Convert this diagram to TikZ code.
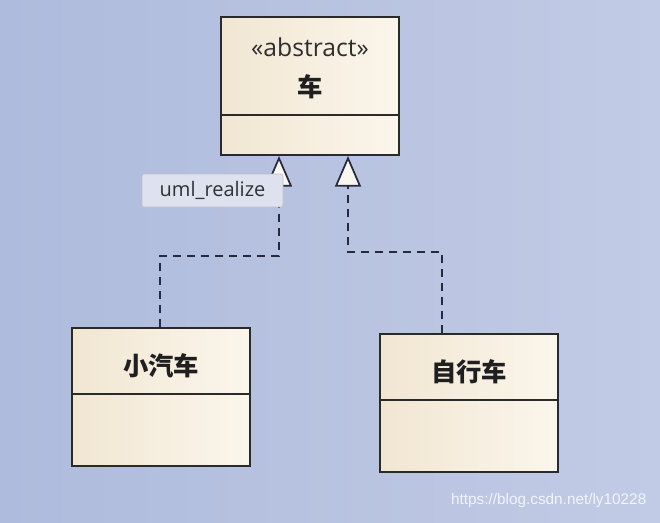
\documentclass[tikz,border=0pt]{standalone}
\usepackage{fontspec}
\setmainfont{Open Sans}
\newfontfamily\cjk{Noto Sans CJK SC}
\newfontfamily\wmfont{Liberation Sans}
\usetikzlibrary{arrows.meta}
\definecolor{bgA}{HTML}{AEBBDC}
\definecolor{bgB}{HTML}{C2CBE5}
\definecolor{boxA}{HTML}{F1E6D2}
\definecolor{boxB}{HTML}{FBF6EC}
\definecolor{edge}{HTML}{2A2A2A}
\definecolor{dashcol}{HTML}{262A3C}
\definecolor{tipfill}{HTML}{FAF7F0}
\definecolor{lblfill}{HTML}{DDE2EE}
\definecolor{lbltext}{HTML}{2E3138}
\tikzset{
  classbox/.style={draw=edge, line width=1.5pt, left color=boxA, right color=boxB,
    minimum width=133.5pt, minimum height=103.5pt, inner sep=0pt},
  divider/.style={draw=edge, line width=1.5pt},
  realize/.style={draw=dashcol, line width=1.5pt, dash pattern=on 6pt off 4.5pt,
    -{Triangle[length=23pt, width=19.5pt, fill=tipfill, line width=1.3pt]}},
  cname/.style={font=\cjk\bfseries\fontsize{19}{21}\selectfont, text=black!88},
  stereo/.style={font=\fontsize{18.5}{20}\selectfont, text=black!82},
  tag/.style={fill=lblfill, draw=lblfill!85!black, line width=0.4pt, rounded corners=1.5pt,
    minimum width=105.75pt, minimum height=24.75pt, inner sep=0pt,
    font=\fontsize{15}{17}\selectfont, text=lbltext},
  wmark/.style={font=\wmfont\fontsize{11.5}{13}\selectfont, text=white, opacity=0.8}
}
\begin{document}
\begin{tikzpicture}[x=0.75pt, y=-0.75pt]
  \shade[left color=bgA, right color=bgB] (0,0) rectangle (660,522);
  \useasboundingbox (0,0) rectangle (660,522);

  % classes
  \node[classbox] (car) at (310,86) {};
  \draw[divider] (221,115) -- (399,115);
  \node[stereo] (st) at (310,47) {«abstract»};
  \node[cname] (carname) at (310,87) {车};

  \node[classbox] (auto) at (161,397) {};
  \draw[divider] (72,394) -- (250,394);
  \node[cname] (autoname) at (161,366) {小汽车};

  \node[classbox] (bike) at (469,403) {};
  \draw[divider] (380,400) -- (558,400);
  \node[cname] (bikename) at (469,372) {自行车};

  % connectors
  \coordinate (l1) at (160,256);
  \coordinate (l2) at (279,256);
  \coordinate (r1) at (442,252);
  \coordinate (r2) at (348,252);
  \draw[realize] (auto.north -| l1) -- (l1) -- (l2) -- (l2 |- car.south);
  \draw[realize] (bike.north -| r1) -- (r1) -- (r2) -- (r2 |- car.south);

  % label
  \node[tag] (lbl) at (212.5,190.5) {uml\_realize};

  % watermark
  \node[wmark, anchor=east] (wm) at (651,501) {https://blog.csdn.net/ly10228};
\end{tikzpicture}
\end{document}
